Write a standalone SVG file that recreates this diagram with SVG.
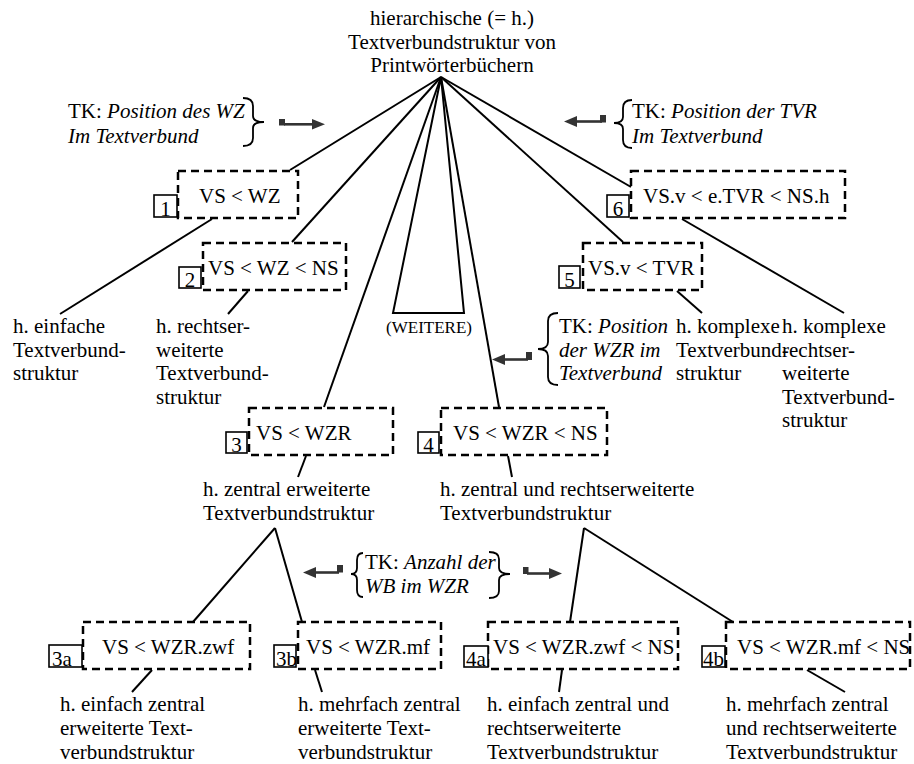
<svg xmlns="http://www.w3.org/2000/svg" width="914" height="764" viewBox="0 0 914 764" style="font-family:'Liberation Serif',serif">
  <rect width="914" height="764" fill="#fff"/>

  <!-- connectors -->
  <g id="connectors" fill="none" stroke="#000" stroke-width="2">
    <line x1="441" y1="77" x2="290" y2="170"/>
    <line x1="441" y1="77" x2="292" y2="242"/>
    <line x1="441" y1="77" x2="324" y2="407"/>
    <polygon points="441,77 393,313 464,313"/>
    <line x1="441" y1="77" x2="499" y2="407"/>
    <line x1="441" y1="77" x2="623" y2="242"/>
    <line x1="441" y1="77" x2="631" y2="187"/>
    <line x1="212" y1="219" x2="60" y2="314"/>
    <line x1="248" y1="291" x2="228" y2="314"/>
    <line x1="677" y1="291" x2="702" y2="313"/>
    <line x1="682" y1="219" x2="844" y2="313"/>
    <line x1="306" y1="456" x2="298" y2="477"/>
    <line x1="508" y1="456" x2="512" y2="477"/>
    <line x1="275" y1="528" x2="193" y2="622"/>
    <line x1="275" y1="528" x2="302" y2="622"/>
    <line x1="584" y1="528" x2="570" y2="622"/>
    <line x1="584" y1="528" x2="733" y2="622"/>
    <line x1="152" y1="670" x2="132" y2="692"/>
    <line x1="315" y1="670" x2="322" y2="692"/>
    <line x1="562" y1="670" x2="559" y2="692"/>
    <line x1="807" y1="670" x2="845" y2="692"/>
  </g>

  <!-- root -->
  <g id="root">
    <text style="font-family:'Liberation Serif',serif" font-size="21" x="452" y="25" text-anchor="middle">hierarchische (= h.)</text>
    <text style="font-family:'Liberation Serif',serif" font-size="21" x="452" y="48.5" text-anchor="middle">Textverbundstruktur von</text>
    <text style="font-family:'Liberation Serif',serif" font-size="21" x="452" y="72" text-anchor="middle">Printwörterbüchern</text>
  </g>

  <!-- criterion: Position des WZ -->
  <g id="tk-wz">
    <text style="font-family:'Liberation Serif',serif" font-size="21" x="68" y="118">TK: <tspan font-style="italic">Position des WZ</tspan></text>
    <text style="font-family:'Liberation Serif',serif" font-size="21" x="68" y="143" font-style="italic">Im Textverbund</text>
    <path fill="none" stroke="#000" stroke-width="1.8" d="M243,98 Q253,98 253,106 L253,116 Q253,122 264,122 Q253,122 253,128 L253,138 Q253,146 243,146"/>
    <g fill="#333">
      <rect x="279" y="119" width="6" height="6.5"/>
      <line stroke="#333" stroke-width="2.6" x1="284" y1="124.3" x2="313" y2="124.3"/>
      <polygon points="312,119 325,124.3 312,129.6"/>
    </g>
  </g>

  <!-- criterion: Position der TVR -->
  <g id="tk-tvr">
    <text style="font-family:'Liberation Serif',serif" font-size="21" x="632" y="118">TK: <tspan font-style="italic">Position der TVR</tspan></text>
    <text style="font-family:'Liberation Serif',serif" font-size="21" x="632" y="143" font-style="italic">Im Textverbund</text>
    <path fill="none" stroke="#000" stroke-width="1.8" d="M632,100 Q623,100 623,108 L623,117 Q623,123 614,123 Q623,123 623,129 L623,140 Q623,148 632,148"/>
    <g fill="#333">
      <rect x="600" y="115" width="6" height="7.5"/>
      <line stroke="#333" stroke-width="2.6" x1="576" y1="121.5" x2="602" y2="121.5"/>
      <polygon points="577,116 564,121.5 577,127"/>
    </g>
  </g>

  <!-- criterion: Position der WZR -->
  <g id="tk-wzr">
    <text style="font-family:'Liberation Serif',serif" font-size="21" x="559" y="333">TK: <tspan font-style="italic">Position</tspan></text>
    <text style="font-family:'Liberation Serif',serif" font-size="21" x="559" y="356.5" font-style="italic">der WZR im</text>
    <text style="font-family:'Liberation Serif',serif" font-size="21" x="559" y="380" font-style="italic">Textverbund</text>
    <path fill="none" stroke="#000" stroke-width="1.8" d="M558,313 Q548,313 548,321 L548,342 Q548,349 538,349 Q548,349 548,356 L548,377 Q548,385 558,385"/>
    <g fill="#333">
      <rect x="526" y="352" width="6" height="8"/>
      <line stroke="#333" stroke-width="2.6" x1="504" y1="359.5" x2="528" y2="359.5"/>
      <polygon points="505,354 492,359.5 505,365"/>
    </g>
  </g>

  <!-- criterion: Anzahl der WB -->
  <g id="tk-wb">
    <text style="font-family:'Liberation Serif',serif" font-size="21" x="365" y="569">TK: <tspan font-style="italic">Anzahl der</tspan></text>
    <text style="font-family:'Liberation Serif',serif" font-size="21" x="365" y="593" font-style="italic">WB im WZR</text>
    <path fill="none" stroke="#000" stroke-width="1.8" d="M363,553 Q357,553 357,560 L357,568 Q357,574 351,574 Q357,574 357,580 L357,590 Q357,597 363,597"/>
    <path fill="none" stroke="#000" stroke-width="1.8" d="M489,552 Q499,552 499,559 L499,568 Q499,574 510,574 Q499,574 499,580 L499,591 Q499,598 489,598"/>
    <g fill="#333">
      <rect x="337" y="565" width="6" height="7.5"/>
      <line stroke="#333" stroke-width="2.6" x1="314" y1="572.5" x2="339" y2="572.5"/>
      <polygon points="316,567 303,572.5 316,578"/>
      <rect x="523" y="567" width="5.5" height="7"/>
      <line stroke="#333" stroke-width="2.6" x1="527" y1="573.5" x2="550" y2="573.5"/>
      <polygon points="549,568 562,573.5 549,579"/>
    </g>
  </g>

  <!-- 1 -->
  <g id="n1">
    <rect fill="none" stroke="#000" stroke-width="2.5" stroke-dasharray="8 5" x="178" y="171" width="120" height="47"/>
    <text style="font-family:'Liberation Serif',serif" font-size="21" x="199" y="203">VS &lt; WZ</text>
    <rect fill="#fff" stroke="#000" stroke-width="1.6" x="154" y="195" width="23" height="22"/>
    <text style="font-family:'Liberation Serif',serif" font-size="21" x="165.5" y="216" text-anchor="middle">1</text>
  </g>
  <g id="l1">
    <text style="font-family:'Liberation Serif',serif" font-size="21" x="13" y="333">h. einfache</text>
    <text style="font-family:'Liberation Serif',serif" font-size="21" x="13" y="356.5">Textverbund-</text>
    <text style="font-family:'Liberation Serif',serif" font-size="21" x="13" y="380">struktur</text>
  </g>

  <!-- 2 -->
  <g id="n2">
    <rect fill="none" stroke="#000" stroke-width="2.5" stroke-dasharray="8 5" x="203" y="243" width="143" height="47"/>
    <text style="font-family:'Liberation Serif',serif" font-size="21" x="208" y="275">VS &lt; WZ &lt; NS</text>
    <rect fill="#fff" stroke="#000" stroke-width="1.6" x="179" y="267" width="22" height="21"/>
    <text style="font-family:'Liberation Serif',serif" font-size="21" x="190" y="287" text-anchor="middle">2</text>
  </g>
  <g id="l2">
    <text style="font-family:'Liberation Serif',serif" font-size="21" x="156" y="333">h. rechtser-</text>
    <text style="font-family:'Liberation Serif',serif" font-size="21" x="156" y="356.5">weiterte</text>
    <text style="font-family:'Liberation Serif',serif" font-size="21" x="156" y="380">Textverbund-</text>
    <text style="font-family:'Liberation Serif',serif" font-size="21" x="156" y="403.5">struktur</text>
  </g>

  <!-- weitere -->
  <g id="weitere">
    <text style="font-family:'Liberation Serif',serif" font-size="17" x="429" y="333" text-anchor="middle">(WEITERE)</text>
  </g>

  <!-- 6 -->
  <g id="n6">
    <rect fill="none" stroke="#000" stroke-width="2.5" stroke-dasharray="8 5" x="631" y="171" width="214" height="47"/>
    <text style="font-family:'Liberation Serif',serif" font-size="21" x="643" y="203">VS.v &lt; e.TVR &lt; NS.h</text>
    <rect fill="#fff" stroke="#000" stroke-width="1.6" x="607" y="195" width="22" height="22"/>
    <text style="font-family:'Liberation Serif',serif" font-size="21" x="618" y="216" text-anchor="middle">6</text>
  </g>
  <g id="l6">
    <text style="font-family:'Liberation Serif',serif" font-size="21" x="782" y="333">h. komplexe</text>
    <text style="font-family:'Liberation Serif',serif" font-size="21" x="782" y="356.5">rechtser-</text>
    <text style="font-family:'Liberation Serif',serif" font-size="21" x="782" y="380">weiterte</text>
    <text style="font-family:'Liberation Serif',serif" font-size="21" x="782" y="403.5">Textverbund-</text>
    <text style="font-family:'Liberation Serif',serif" font-size="21" x="782" y="427">struktur</text>
  </g>

  <!-- 5 -->
  <g id="n5">
    <rect fill="none" stroke="#000" stroke-width="2.5" stroke-dasharray="8 5" x="583" y="243" width="119" height="47"/>
    <text style="font-family:'Liberation Serif',serif" font-size="21" x="588" y="275">VS.v &lt; TVR</text>
    <rect fill="#fff" stroke="#000" stroke-width="1.6" x="559" y="266" width="21" height="22"/>
    <text style="font-family:'Liberation Serif',serif" font-size="21" x="569.5" y="287" text-anchor="middle">5</text>
  </g>
  <g id="l5">
    <text style="font-family:'Liberation Serif',serif" font-size="21" x="676" y="333">h. komplexe</text>
    <text style="font-family:'Liberation Serif',serif" font-size="21" x="676" y="356.5">Textverbund-</text>
    <text style="font-family:'Liberation Serif',serif" font-size="21" x="676" y="380">struktur</text>
  </g>

  <!-- 3 -->
  <g id="n3">
    <rect fill="none" stroke="#000" stroke-width="2.5" stroke-dasharray="8 5" x="249" y="408" width="144" height="47"/>
    <text style="font-family:'Liberation Serif',serif" font-size="21" x="256" y="440">VS &lt; WZR</text>
    <rect fill="#fff" stroke="#000" stroke-width="1.6" x="226" y="432" width="21" height="21"/>
    <text style="font-family:'Liberation Serif',serif" font-size="21" x="236.5" y="452" text-anchor="middle">3</text>
  </g>
  <g id="l3">
    <text style="font-family:'Liberation Serif',serif" font-size="21" x="203" y="496">h. zentral erweiterte</text>
    <text style="font-family:'Liberation Serif',serif" font-size="21" x="203" y="520">Textverbundstruktur</text>
  </g>

  <!-- 4 -->
  <g id="n4">
    <rect fill="none" stroke="#000" stroke-width="2.5" stroke-dasharray="8 5" x="441" y="408" width="166" height="47"/>
    <text style="font-family:'Liberation Serif',serif" font-size="21" x="453" y="440">VS &lt; WZR &lt; NS</text>
    <rect fill="#fff" stroke="#000" stroke-width="1.6" x="418" y="432" width="21" height="21"/>
    <text style="font-family:'Liberation Serif',serif" font-size="21" x="428.5" y="452" text-anchor="middle">4</text>
  </g>
  <g id="l4">
    <text style="font-family:'Liberation Serif',serif" font-size="21" x="440" y="496">h. zentral und rechtserweiterte</text>
    <text style="font-family:'Liberation Serif',serif" font-size="21" x="440" y="520">Textverbundstruktur</text>
  </g>

  <!-- 3a -->
  <g id="n3a">
    <rect fill="none" stroke="#000" stroke-width="2.5" stroke-dasharray="8 5" x="83" y="622" width="167" height="47"/>
    <text style="font-family:'Liberation Serif',serif" font-size="21" x="102" y="654">VS &lt; WZR.zwf</text>
    <rect fill="#fff" stroke="#000" stroke-width="1.6" x="49" y="645" width="33" height="22"/>
    <text style="font-family:'Liberation Serif',serif" font-size="21" x="52" y="666">3a</text>
  </g>
  <g id="l3a">
    <text style="font-family:'Liberation Serif',serif" font-size="21" x="60" y="711">h. einfach zentral</text>
    <text style="font-family:'Liberation Serif',serif" font-size="21" x="60" y="735">erweiterte Text-</text>
    <text style="font-family:'Liberation Serif',serif" font-size="21" x="60" y="759">verbundstruktur</text>
  </g>

  <!-- 3b -->
  <g id="n3b">
    <rect fill="none" stroke="#000" stroke-width="2.5" stroke-dasharray="8 5" x="298" y="622" width="143" height="47"/>
    <text style="font-family:'Liberation Serif',serif" font-size="21" x="306" y="654">VS &lt; WZR.mf</text>
    <rect fill="#fff" stroke="#000" stroke-width="1.6" x="274" y="645" width="22" height="22"/>
    <text style="font-family:'Liberation Serif',serif" font-size="21" x="276" y="666">3b</text>
  </g>
  <g id="l3b">
    <text style="font-family:'Liberation Serif',serif" font-size="21" x="298" y="711">h. mehrfach zentral</text>
    <text style="font-family:'Liberation Serif',serif" font-size="21" x="298" y="735">erweiterte Text-</text>
    <text style="font-family:'Liberation Serif',serif" font-size="21" x="298" y="759">verbundstruktur</text>
  </g>

  <!-- 4a -->
  <g id="n4a">
    <rect fill="none" stroke="#000" stroke-width="2.5" stroke-dasharray="8 5" x="488" y="622" width="190" height="47"/>
    <text style="font-family:'Liberation Serif',serif" font-size="21" x="493" y="654">VS &lt; WZR.zwf &lt; NS</text>
    <rect fill="#fff" stroke="#000" stroke-width="1.6" x="464" y="646" width="24" height="21"/>
    <text style="font-family:'Liberation Serif',serif" font-size="21" x="466" y="666">4a</text>
  </g>
  <g id="l4a">
    <text style="font-family:'Liberation Serif',serif" font-size="21" x="487" y="711">h. einfach zentral und</text>
    <text style="font-family:'Liberation Serif',serif" font-size="21" x="487" y="735">rechtserweiterte</text>
    <text style="font-family:'Liberation Serif',serif" font-size="21" x="487" y="759">Textverbundstruktur</text>
  </g>

  <!-- 4b -->
  <g id="n4b">
    <rect fill="none" stroke="#000" stroke-width="2.5" stroke-dasharray="8 5" x="726" y="622" width="184" height="47"/>
    <text style="font-family:'Liberation Serif',serif" font-size="21" x="737" y="654">VS &lt; WZR.mf &lt; NS</text>
    <rect fill="#fff" stroke="#000" stroke-width="1.6" x="702" y="646" width="23" height="21"/>
    <text style="font-family:'Liberation Serif',serif" font-size="21" x="703" y="666">4b</text>
  </g>
  <g id="l4b">
    <text style="font-family:'Liberation Serif',serif" font-size="21" x="726" y="711">h. mehrfach zentral</text>
    <text style="font-family:'Liberation Serif',serif" font-size="21" x="726" y="735">und rechtserweiterte</text>
    <text style="font-family:'Liberation Serif',serif" font-size="21" x="726" y="759">Textverbundstruktur</text>
  </g>
</svg>
